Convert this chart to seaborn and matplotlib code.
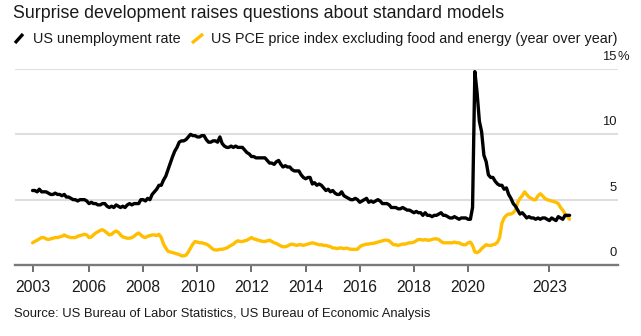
import numpy as np
import pandas as pd
import matplotlib
matplotlib.use("Agg")
import matplotlib.pyplot as plt
import matplotlib.dates as mdates
from matplotlib.lines import Line2D
from matplotlib.transforms import blended_transform_factory, offset_copy
import seaborn as sns

# Monthly series, December 2003 through October 2023
start_month = "2003-12-01"

unemployment = [
    5.7,
    5.7, 5.6, 5.8, 5.6, 5.6, 5.6, 5.5, 5.4, 5.4, 5.5, 5.4, 5.4,
    5.3, 5.4, 5.2, 5.2, 5.1, 5.0, 5.0, 4.9, 5.0, 5.0, 5.0, 4.9,
    4.7, 4.8, 4.7, 4.7, 4.6, 4.6, 4.7, 4.7, 4.5, 4.4, 4.5, 4.4,
    4.6, 4.5, 4.4, 4.5, 4.4, 4.6, 4.7, 4.6, 4.7, 4.7, 4.7, 5.0,
    5.0, 4.9, 5.1, 5.0, 5.4, 5.6, 5.8, 6.1, 6.1, 6.5, 6.8, 7.3,
    7.8, 8.3, 8.7, 9.0, 9.4, 9.5, 9.5, 9.6, 9.8, 10.0, 9.9, 9.9,
    9.8, 9.8, 9.9, 9.9, 9.6, 9.4, 9.4, 9.5, 9.5, 9.4, 9.8, 9.3,
    9.1, 9.0, 9.0, 9.1, 9.0, 9.1, 9.0, 9.0, 9.0, 8.8, 8.6, 8.5,
    8.3, 8.3, 8.2, 8.2, 8.2, 8.2, 8.2, 8.0, 7.8, 7.8, 7.7, 7.9,
    8.0, 7.7, 7.5, 7.6, 7.5, 7.5, 7.3, 7.2, 7.2, 7.2, 6.9, 6.7,
    6.6, 6.7, 6.7, 6.2, 6.3, 6.1, 6.2, 6.1, 5.9, 5.7, 5.8, 5.6,
    5.7, 5.5, 5.4, 5.4, 5.6, 5.3, 5.2, 5.1, 5.0, 5.0, 5.1, 5.0,
    4.8, 4.9, 5.0, 5.1, 4.8, 4.9, 4.8, 4.9, 5.0, 4.9, 4.7, 4.7,
    4.7, 4.6, 4.4, 4.4, 4.4, 4.3, 4.3, 4.4, 4.3, 4.2, 4.2, 4.1,
    4.0, 4.1, 4.0, 4.0, 3.8, 4.0, 3.8, 3.8, 3.7, 3.8, 3.8, 3.9,
    4.0, 3.8, 3.8, 3.7, 3.6, 3.6, 3.7, 3.6, 3.5, 3.6, 3.6, 3.6,
    3.5, 3.5, 4.4, 14.8, 13.2, 11.0, 10.2, 8.4, 7.9, 6.9, 6.7, 6.7,
    6.4, 6.2, 6.1, 6.1, 5.8, 5.9, 5.4, 5.1, 4.7, 4.5, 4.2, 3.9,
    4.0, 3.8, 3.6, 3.7, 3.6, 3.6, 3.5, 3.6, 3.5, 3.6, 3.6, 3.5,
    3.4, 3.6, 3.5, 3.4, 3.7, 3.6, 3.5, 3.8, 3.8, 3.8,
]

core_pce = [
    1.7,
    1.8, 1.9, 2.0, 2.1, 2.1, 2.0, 1.95, 2.0, 2.05, 2.1, 2.1, 2.15,
    2.2, 2.3, 2.2, 2.15, 2.1, 2.1, 2.1, 2.2, 2.25, 2.3, 2.35, 2.3,
    2.1, 2.15, 2.3, 2.45, 2.55, 2.65, 2.7, 2.6, 2.45, 2.3, 2.35, 2.5,
    2.6, 2.5, 2.3, 2.15, 2.1, 2.05, 2.05, 2.1, 2.2, 2.35, 2.45, 2.3,
    2.15, 2.1, 2.2, 2.25, 2.3, 2.3, 2.25, 2.35, 2.1, 1.6, 1.3, 1.05,
    1.0, 0.95, 0.9, 0.85, 0.8, 0.7, 0.7, 0.75, 1.0, 1.3, 1.6, 1.8,
    1.75, 1.7, 1.7, 1.65, 1.6, 1.5, 1.35, 1.2, 1.15, 1.15, 1.2, 1.2,
    1.25, 1.3, 1.4, 1.5, 1.6, 1.75, 1.85, 1.8, 1.8, 1.85, 1.9, 2.0,
    2.1, 2.0, 1.95, 1.9, 1.85, 1.8, 1.8, 1.85, 1.9, 1.8, 1.7, 1.65,
    1.55, 1.45, 1.4, 1.4, 1.45, 1.55, 1.6, 1.55, 1.5, 1.55, 1.55, 1.5,
    1.55, 1.6, 1.65, 1.7, 1.65, 1.6, 1.55, 1.55, 1.5, 1.5, 1.45, 1.4,
    1.3, 1.3, 1.25, 1.3, 1.3, 1.25, 1.3, 1.25, 1.2, 1.2, 1.2, 1.2,
    1.4, 1.5, 1.55, 1.6, 1.6, 1.65, 1.65, 1.7, 1.75, 1.8, 1.85, 1.9,
    1.9, 1.85, 1.7, 1.55, 1.55, 1.5, 1.55, 1.6, 1.6, 1.65, 1.7, 1.7,
    1.75, 1.85, 1.95, 1.95, 1.9, 1.95, 1.9, 1.9, 1.95, 2.0, 2.0, 1.95,
    1.8, 1.7, 1.7, 1.7, 1.7, 1.7, 1.75, 1.7, 1.7, 1.6, 1.55, 1.55,
    1.7, 1.75, 1.5, 1.0, 0.95, 1.05, 1.25, 1.4, 1.55, 1.5, 1.5, 1.55,
    1.6, 1.75, 2.1, 3.2, 3.6, 3.8, 3.9, 3.9, 4.0, 4.2, 4.8, 5.1,
    5.3, 5.6, 5.4, 5.2, 5.1, 5.0, 5.0, 5.3, 5.45, 5.3, 5.1, 5.0,
    4.95, 4.9, 4.85, 4.8, 4.7, 4.4, 4.2, 3.9, 3.7, 3.5,
]

y_ticks = [0, 5, 10, 15]
y_tick_labels = ["0", "5", "10", "15"]
x_tick_dates = ["2003-12-01", "2006-01-01", "2008-01-01", "2010-01-01", "2012-01-01",
                "2014-01-01", "2016-01-01", "2018-01-01", "2020-01-01", "2023-01-01"]
x_tick_labels = ["2003", "2006", "2008", "2010", "2012", "2014", "2016", "2018", "2020", "2023"]

title = "Surprise development raises questions about standard models"
series_names = ["US unemployment rate",
                "US PCE price index excluding food and energy (year over year)"]
source = "Source: US Bureau of Labor Statistics, US Bureau of Economic Analysis"

BLACK = "#000000"
YELLOW = "#FFBF00"
TEXT = "#1a1a1a"

dates = pd.date_range(start_month, periods=len(unemployment), freq="MS")
df = pd.DataFrame({"date": dates, "unemployment": unemployment, "pce": core_pce})

sns.set_theme(style="white")
plt.rcParams["font.family"] = ["Liberation Sans", "DejaVu Sans"]

W, H = 641, 336
fig = plt.figure(figsize=(W / 100, H / 100), dpi=100)
ax = fig.add_axes([15 / W, 1 - 265 / H, (618 - 15) / W, (265 - 69) / H])

sns.lineplot(data=df, x="date", y="pce", ax=ax, color=YELLOW, lw=2.4, zorder=3)
sns.lineplot(data=df, x="date", y="unemployment", ax=ax, color=BLACK, lw=2.4, zorder=4)

ax.set_xlim(pd.Timestamp("2003-04-08"), pd.Timestamp("2025-07-15"))
ax.set_ylim(0, 15)
ax.set_xlabel("")
ax.set_ylabel("")

# horizontal grid lines
for v in y_ticks[1:]:
    ax.axhline(v, color="#dedede", lw=1.5, zorder=1)

for side in ["top", "right", "left"]:
    ax.spines[side].set_visible(False)
ax.spines["bottom"].set_color("#7a7a7a")
ax.spines["bottom"].set_linewidth(1.7)
ax.spines["bottom"].set_zorder(5)

ax.set_yticks([])
ax.set_xticks([pd.Timestamp(d) for d in x_tick_dates])
ax.set_xticklabels(x_tick_labels)
ax.tick_params(axis="x", bottom=True, direction="out", length=5, width=1.2,
               color="#555555", labelsize=11.3, labelcolor=TEXT, pad=5.5)

# value labels sitting above each grid line on the right
tr = blended_transform_factory(ax.transAxes, ax.transData)
tr = offset_copy(tr, fig=fig, x=0, y=6.5, units="points")
for v, lab in zip(y_ticks, y_tick_labels):
    ax.text(0.998, v, lab, transform=tr, ha="right", va="baseline",
            fontsize=9.4, color=TEXT)
ax.text(0.999, 15, "%", transform=tr, ha="left", va="baseline", fontsize=9.4, color=TEXT)

# title and legend
fig.text(13 / W, 1 - 13 / H, title, ha="left", va="center", fontsize=12.8, color=TEXT)
for (x0, x1), col, name, tx in [((15, 23), BLACK, series_names[0], 33),
                                 ((192, 203), YELLOW, series_names[1], 211)]:
    fig.add_artist(Line2D([x0 / W, x1 / W], [1 - 43 / H, 1 - 34 / H],
                          color=col, lw=2.4, solid_capstyle="butt"))
    fig.text(tx / W, 1 - 38.5 / H, name, ha="left", va="center", fontsize=10.35, color=TEXT)

fig.text(14 / W, 1 - 314 / H, source, ha="left", va="center", fontsize=9.4, color=TEXT)

fig.savefig("out.png", dpi=100)
